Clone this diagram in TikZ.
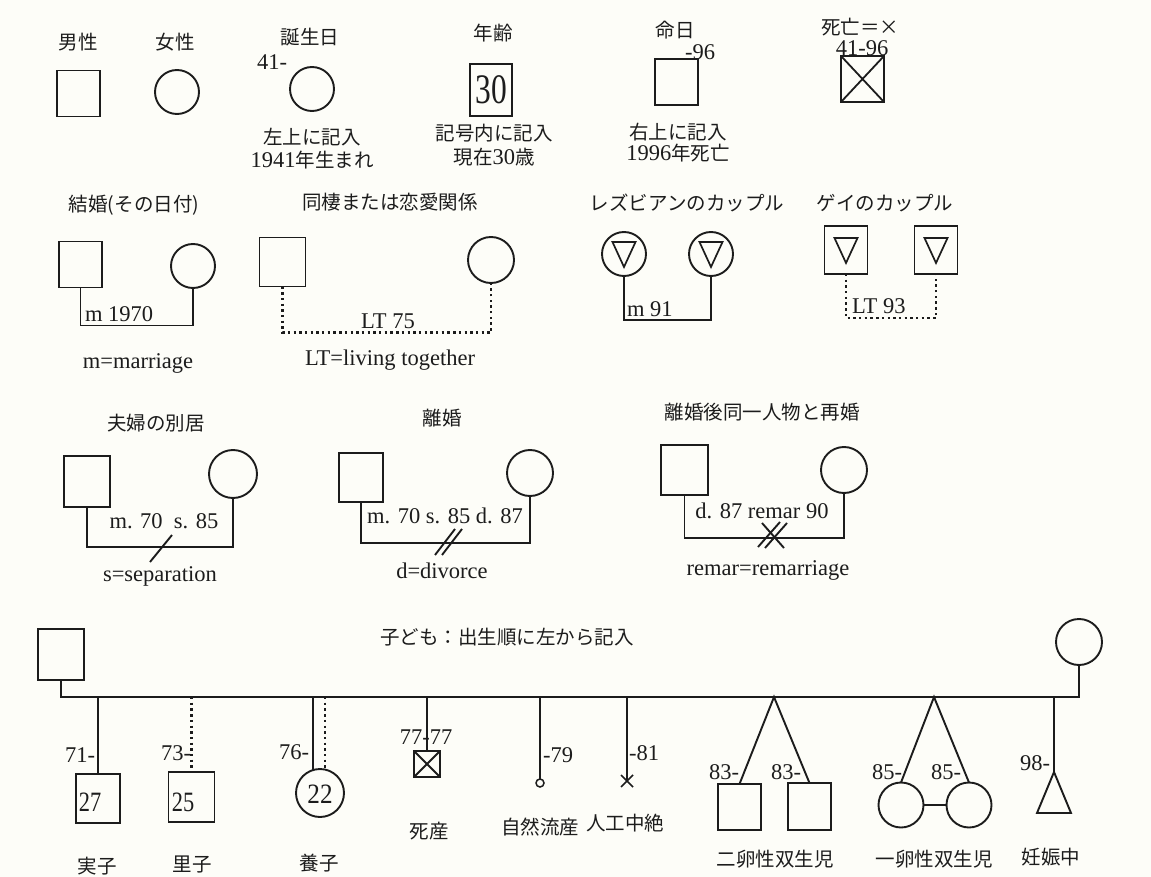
\documentclass[tikz,border=0pt]{standalone}
\usepackage{fontspec}
\setmainfont{Liberation Serif}
\newfontfamily\jp{Noto Sans CJK JP}
\usetikzlibrary{shapes.misc,calc}
\definecolor{paper}{RGB}{253,253,248}
\definecolor{ink}{RGB}{28,28,28}
\newcommand\J[1]{{\jp\fontsize{19.5}{22}\selectfont #1}}
\begin{document}
\begin{tikzpicture}[x=1pt,y=-1pt,
 every node/.style={inner sep=0pt,outer sep=0pt,text=ink},
 male/.style={draw=ink,line width=1.9pt,minimum width=43pt,minimum height=46pt},
 female/.style={draw=ink,circle,line width=1.9pt,minimum size=44pt},
 jlab/.style={font=\jp\fontsize{19.5}{22}\selectfont},
 llab/.style={font=\fontsize{22.5}{26}\selectfont},
 num/.style={font=\fontsize{28}{28}\selectfont},
 rel/.style={draw=ink,line width=1.9pt},
 lt/.style={draw=ink,line width=2.9pt,dash pattern=on 2.4pt off 3.3pt},
 deadx/.style={path picture={\draw[ink,line width=1.8pt]
   (path picture bounding box.north west) -- (path picture bounding box.south east)
   (path picture bounding box.north east) -- (path picture bounding box.south west);}},
 tri/.style={path picture={\draw[ink,line width=1.7pt]
   ([xshift=-11.5pt,yshift=12pt]path picture bounding box.center) --
   ([xshift=11.5pt,yshift=12pt]path picture bounding box.center) --
   ([yshift=-13pt]path picture bounding box.center) -- cycle;}},
]
\fill[paper] (0,0) rectangle (1151,877);
\useasboundingbox (0,0) rectangle (1151,877);

% ---------- row 1 ----------
\node[jlab] (t1) at (78,42) {男性};
\node[male] (s1) at (78.5,93.5) {};
\node[jlab] (t2) at (175,42) {女性};
\node[female] (c1) at (177,92) {};
\node[jlab] (t3) at (310,37) {誕生日};
\node[llab] (b41) at (272,62) {41-};
\node[female] (c2) at (312,89) {};
\node[jlab] (t3a) at (312,137) {左上に記入};
\node[llab] (t3b) at (312,160) {1941\J{年生まれ}};
\node[jlab] (t4) at (493,33) {年齢};
\node[male,minimum width=42pt,minimum height=52pt] (s2) at (491,90)
  {\fontsize{42}{42}\selectfont\scalebox{0.75}[1]{30}};
\node[jlab] (t4a) at (494,133) {記号内に記入};
\node[llab] (t4b) at (494,157) {\J{現在}30\J{歳}};
\node[jlab] (t5) at (675,30) {命日};
\node[llab] (d96) at (700,52) {-96};
\node[male] (s3) at (676.5,82) {};
\node[jlab] (t5a) at (678,132) {右上に記入};
\node[llab] (t5b) at (678,153) {1996\J{年死亡}};
\node[jlab] (t6) at (860,27) {死亡＝×};
\node[llab] (d4196) at (862,48) {41-96};
\node[male,deadx] (s4) at (862.5,79) {};

% ---------- row 2 ----------
\node[jlab] (t7) at (134,205) {結婚(その日付)};
\node[male] (s5) at (80.5,264.5) {};
\node[female] (c5) at (193,266) {};
\draw[rel] (s5.south) -- ++(0,38) -| (c5.south);
\node[llab,anchor=west] (m1970) at (85,314) {m 1970};
\node[llab] (mm) at (138,363) {m=marriage};

\node[jlab] (t8) at (390,202) {同棲または恋愛関係};
\node[male,minimum width=46pt,minimum height=49pt] (s6) at (282.5,262) {};
\node[female,minimum size=46pt] (c6) at (491,260) {};
\draw[lt] (s6.south) -- ++(0,46) -| (c6.south);
\node[llab] (lt75) at (388,321) {LT 75};
\node[llab] (ltl) at (390,360) {LT=living together};

\node[jlab] (t9) at (687,203) {レズビアンのカップル};
\node[female,tri] (l1) at (624,254) {};
\node[female,tri] (l2) at (711,254) {};
\draw[rel] (l1.south) -- ++(0,44) -| (l2.south);
\node[llab,anchor=west] (m91) at (627,309) {m 91};
\node[jlab] (t10) at (885,203) {ゲイのカップル};
\node[male,tri,minimum height=48pt] (g1) at (846,250) {};
\node[male,tri,minimum height=48pt] (g2) at (936,250) {};
\draw[lt] (g1.south) -- ++(0,44) -| (g2.south);
\node[llab,anchor=west] (lt93) at (852,306) {LT 93};

% ---------- row 3 ----------
\node[jlab] (t11) at (156,423) {夫婦の別居};
\node[male,minimum width=46pt,minimum height=51pt] (s7) at (87,481.5) {};
\node[female,minimum size=48pt] (c7) at (233,474) {};
\draw[rel] (s7.south) -- ++(0,40) -| (c7.south);
\node[llab] (ms) at (164,521) {m. 70\enspace s. 85};
\coordinate (sepc) at (161,548);
\draw[rel] (sepc) ++(-11,14) -- ++(22,-27);
\node[llab] (sdef) at (160,576) {s=separation};

\node[jlab] (t12) at (442,418) {離婚};
\node[male,minimum width=44pt,minimum height=49pt] (s8) at (361,477.5) {};
\node[female,minimum size=46pt] (c8) at (530,473) {};
\draw[rel] (s8.south) -- ++(0,41) -| (c8.south);
\node[llab] (msd) at (445,516) {m. 70 s. 85 d. 87};
\coordinate (divc) at (448,542);
\draw[rel] (divc) ++(-13,13) -- ++(20,-26);
\draw[rel] (divc) ++(-6,13) -- ++(20,-26);
\node[llab] (ddef) at (442,571) {d=divorce};

\node[jlab] (t13) at (762,412) {離婚後同一人物と再婚};
\node[male,minimum width=47pt,minimum height=50pt] (s9) at (684.5,470) {};
\node[female,minimum size=46pt] (c9) at (844,470) {};
\draw[rel] (s9.south) -- ++(0,43) -| (c9.south);
\node[llab] (dr) at (762,511) {d. 87 remar 90};
\coordinate (rc) at (772,535);
\draw[rel] (rc) ++(-14,12) -- ++(22,-25);
\draw[rel] (rc) ++(-7,13) -- ++(22,-25);
\draw[rel] (rc) ++(-10,-12) -- ++(22,25);
\node[llab] (rdef) at (768,570) {remar=remarriage};

% ---------- row 4 ----------
\node[jlab] (t14) at (507,637) {子ども：出生順に左から記入};
\node[male,minimum width=46pt,minimum height=51pt] (fa) at (61,654.5) {};
\node[female,minimum size=46pt] (mo) at (1079,642) {};
\coordinate (hl) at (63,697);
\draw[rel] (fa.south) |- (mo.south |- hl) -- (mo.south);

% biological child
\node[male,minimum width=44pt,minimum height=49pt] (k1) at (98,798.5) {};
\draw[rel] (k1.north |- hl) -- (k1.north);
\node[num] (k1n) at (90,802) {\scalebox{0.8}[1]{27}};
\node[llab] (k1d) at (80,755) {71-};
\node[jlab] (k1t) at (97,866) {実子};
% foster child
\node[male,minimum width=46pt,minimum height=50pt] (k2) at (191.5,797) {};
\draw[lt] (k2.north |- hl) -- (k2.north);
\node[num] (k2n) at (183,802) {\scalebox{0.8}[1]{25}};
\node[llab] (k2d) at (176,753) {73-};
\node[jlab] (k2t) at (192,865) {里子};
% adopted child
\node[female,minimum size=48pt] (k3) at (320,793) {};
\draw[rel] (k3.106 |- hl) -- (k3.106);
\draw[lt] (k3.78 |- hl) -- (k3.78);
\node[num] (k3n) at (320,794) {\scalebox{0.9}[1]{22}};
\node[llab] (k3d) at (294,752) {76-};
\node[jlab] (k3t) at (319,863) {養子};
% stillbirth
\node[male,deadx,minimum width=26pt,minimum height=26pt] (k4) at (427,764) {};
\draw[rel] (k4.north |- hl) -- (k4.north);
\node[llab] (k4d) at (426,737) {77-77};
\node[jlab] (k4t) at (429,831) {死産};
% miscarriage
\node[draw=ink,circle,line width=1.5pt,minimum size=8pt] (k5) at (540,783) {};
\draw[rel] (k5.north |- hl) -- (k5.north);
\node[llab] (k5d) at (558,755) {-79};
\node[jlab] (k5t) at (540,827) {自然流産};
% abortion
\node[cross out,draw=ink,line width=1.7pt,minimum size=12pt] (k6) at (627,781) {};
\draw[rel] (k6.center |- hl) -- (k6.center);
\node[llab] (k6d) at (644,753) {-81};
\node[jlab] (k6t) at (625,823) {人工中絶};
% fraternal twins
\coordinate (dz) at (774,697);
\node[male,minimum width=43pt,minimum height=46pt] (k7) at (739.5,807) {};
\node[male,minimum width=43pt,minimum height=47pt] (k8) at (809.5,806.5) {};
\draw[rel] (k7.north) -- (dz) -- (k8.north);
\node[llab] (k7d) at (724,772) {83-};
\node[llab] (k8d) at (786,772) {83-};
\node[jlab] (k7t) at (775,859) {二卵性双生児};
% identical twins
\coordinate (mz) at (934,697);
\node[female,minimum size=45pt] (k9) at (901,805) {};
\node[female,minimum size=45pt] (k10) at (969,805) {};
\draw[rel] (k9.north) -- (mz) -- (k10.north);
\draw[rel] (k9.east) -- (k10.west);
\node[llab] (k9d) at (887,772) {85-};
\node[llab] (k10d) at (946,772) {85-};
\node[jlab] (k9t) at (934,859) {一卵性双生児};
% pregnancy
\coordinate (pg) at (1054,772);
\draw[rel] (pg |- hl) -- (pg);
\draw[rel,line join=miter] (pg) -- ++(-17,41) -- ++(34,0) -- cycle;
\node[llab] (pgd) at (1035,763) {98-};
\node[jlab] (pgt) at (1051,857) {妊娠中};
\end{tikzpicture}
\end{document}
